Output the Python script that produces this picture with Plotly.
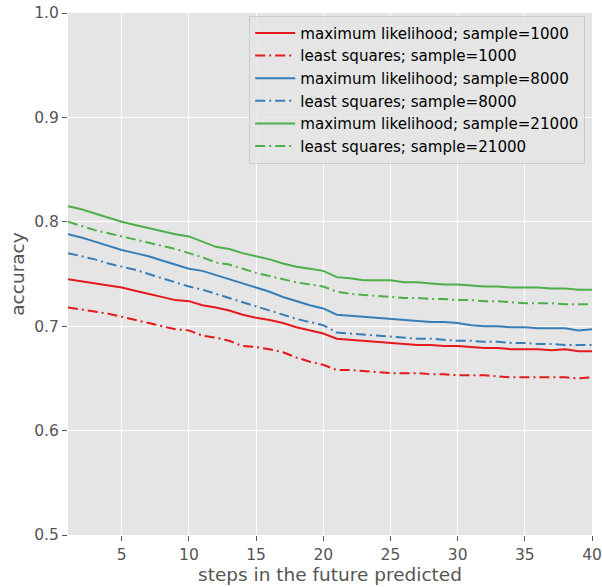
import plotly.graph_objects as go

steps = list(range(1, 41))

ml_1000 = [0.745, 0.743, 0.741, 0.739, 0.737, 0.734, 0.731, 0.728, 0.725, 0.724,
           0.720, 0.718, 0.715, 0.711, 0.708, 0.706, 0.703, 0.699, 0.696, 0.693,
           0.688, 0.687, 0.686, 0.685, 0.684, 0.683, 0.682, 0.682, 0.681, 0.681,
           0.680, 0.679, 0.679, 0.678, 0.678, 0.678, 0.677, 0.678, 0.676, 0.676]
ls_1000 = [0.718, 0.716, 0.714, 0.712, 0.709, 0.706, 0.703, 0.700, 0.697, 0.696,
           0.691, 0.689, 0.686, 0.681, 0.680, 0.678, 0.675, 0.670, 0.666, 0.663,
           0.658, 0.658, 0.657, 0.656, 0.655, 0.655, 0.655, 0.654, 0.654, 0.653,
           0.653, 0.653, 0.652, 0.651, 0.651, 0.651, 0.651, 0.651, 0.650, 0.651]
ml_8000 = [0.788, 0.785, 0.781, 0.777, 0.773, 0.770, 0.767, 0.763, 0.759, 0.755,
           0.753, 0.749, 0.745, 0.741, 0.737, 0.733, 0.728, 0.724, 0.720, 0.717,
           0.711, 0.710, 0.709, 0.708, 0.707, 0.706, 0.705, 0.704, 0.704, 0.703,
           0.701, 0.700, 0.700, 0.699, 0.699, 0.698, 0.698, 0.698, 0.696, 0.697]
ls_8000 = [0.770, 0.767, 0.764, 0.760, 0.757, 0.754, 0.750, 0.746, 0.742, 0.738,
           0.735, 0.731, 0.727, 0.723, 0.719, 0.715, 0.711, 0.707, 0.704, 0.701,
           0.694, 0.693, 0.692, 0.691, 0.690, 0.689, 0.688, 0.688, 0.687, 0.686,
           0.686, 0.685, 0.685, 0.684, 0.684, 0.683, 0.683, 0.682, 0.682, 0.682]
ml_21000 = [0.815, 0.812, 0.808, 0.804, 0.800, 0.797, 0.794, 0.791, 0.788, 0.786,
            0.781, 0.776, 0.774, 0.770, 0.767, 0.764, 0.760, 0.757, 0.755, 0.753,
            0.747, 0.746, 0.744, 0.744, 0.744, 0.742, 0.742, 0.741, 0.740, 0.740,
            0.739, 0.738, 0.738, 0.737, 0.737, 0.737, 0.736, 0.736, 0.735, 0.735]
ls_21000 = [0.800, 0.796, 0.792, 0.789, 0.786, 0.783, 0.780, 0.777, 0.774, 0.770,
            0.766, 0.761, 0.759, 0.755, 0.751, 0.748, 0.745, 0.742, 0.740, 0.738,
            0.733, 0.731, 0.730, 0.729, 0.728, 0.727, 0.727, 0.726, 0.726, 0.725,
            0.725, 0.724, 0.724, 0.723, 0.722, 0.722, 0.722, 0.721, 0.721, 0.721]

series = [
    ("maximum likelihood; sample=1000", ml_1000, "#e41a1c", "solid"),
    ("least squares; sample=1000", ls_1000, "#e41a1c", "10px,4px,2px,4px"),
    ("maximum likelihood; sample=8000", ml_8000, "#377eb8", "solid"),
    ("least squares; sample=8000", ls_8000, "#377eb8", "10px,4px,2px,4px"),
    ("maximum likelihood; sample=21000", ml_21000, "#4daf4a", "solid"),
    ("least squares; sample=21000", ls_21000, "#4daf4a", "10px,4px,2px,4px"),
]

fig = go.Figure()
for name, vals, color, dash in series:
    fig.add_trace(go.Scatter(x=steps, y=vals, mode="lines", name=name,
                             line=dict(color=color, width=2, dash=dash)))

axis_common = dict(showgrid=True, gridcolor="white", gridwidth=1.3, zeroline=False,
                   ticks="outside", ticklen=5, tickcolor="#555555",
                   tickfont=dict(size=15.5, color="#555555"), showline=False)

fig.update_layout(
    width=602, height=587,
    margin=dict(l=68, r=10, t=13, b=52, autoexpand=False),
    paper_bgcolor="white", plot_bgcolor="#E5E5E5",
    font=dict(family="DejaVu Sans", color="#555555"),
    xaxis=dict(range=[1, 40], tickvals=[5, 10, 15, 20, 25, 30, 35, 40],
               title=dict(text="steps in the future predicted", font=dict(size=18.5, color="#555555"),
                          standoff=5),
               **axis_common),
    yaxis=dict(range=[0.5, 1.0], tickvals=[0.5, 0.6, 0.7, 0.8, 0.9, 1.0], tickformat=".1f",
               title=dict(text="accuracy", font=dict(size=18.5, color="#555555"), standoff=4),
               **axis_common),
    legend=dict(x=0.987, y=0.995, xanchor="right", yanchor="top",
                bgcolor="rgba(229,229,229,0.8)", bordercolor="#CCCCCC", borderwidth=1,
                font=dict(size=15.1, color="black"), tracegroupgap=0, itemwidth=40),
    showlegend=True,
)

fig.write_html("out.html", config={"displayModeBar": False},
               post_script="document.body.style.margin='0';document.body.style.padding='0';")
